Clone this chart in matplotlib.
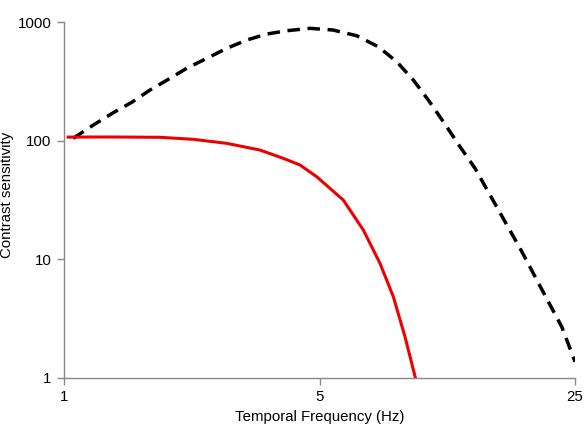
import matplotlib
matplotlib.use('Agg')
import matplotlib.pyplot as plt
from matplotlib.ticker import FixedLocator, NullLocator

plt.rcParams['font.family'] = ['Liberation Sans', 'DejaVu Sans']

# dashed black curve
freqDashed = [1.060, 1.203, 1.364, 1.532, 1.719, 1.950, 2.166, 2.458, 2.787, 3.161,
              3.585, 4.067, 4.710, 5.445, 6.322, 7.241, 8.134, 9.028, 9.922, 10.906,
              12.116, 13.316, 14.636, 16.088, 17.681, 19.222, 21.13, 22.99, 25.0]
sensDashed = [104.7, 135.5, 172.1, 210.5, 267.3, 335.5, 407.3, 494.6, 600.2, 705.3,
              792.2, 844.9, 885.1, 856.4, 766.6, 619.2, 463.0, 324.5, 220.1, 144.5,
              88.96, 58.5, 34.85, 20.76, 12.39, 7.625, 4.395, 2.706, 1.372]

# solid red curve
freqRed = [1.027, 1.336, 1.831, 2.258, 2.787, 3.437, 3.980, 4.423, 4.913, 5.808,
           6.590, 7.318, 7.961, 8.566, 9.15]
sensRed = [107.2, 107.5, 106.8, 102.7, 95.0, 83.4, 71.0, 62.4, 49.7, 31.6,
           17.67, 9.26, 4.84, 2.23, 1.0]

xTicks = [1, 5, 25]
yTicks = [1, 10, 100, 1000]

fig = plt.figure(figsize=(5.87, 4.24), dpi=100)
ax = fig.add_axes([0.109, 0.1085, 0.8706, 0.8395])

ax.plot(freqDashed, sensDashed, color='black', linewidth=2.5, linestyle=(0, (3.6, 2.2)))
ax.plot(freqRed, sensRed, color='#ee0000', linewidth=2.2)

ax.set_xscale('log')
ax.set_yscale('log')
ax.set_xlim(1, 25)
ax.set_ylim(1, 1000)

ax.xaxis.set_major_locator(FixedLocator(xTicks))
ax.xaxis.set_minor_locator(NullLocator())
ax.yaxis.set_major_locator(FixedLocator(yTicks))
ax.yaxis.set_minor_locator(NullLocator())
ax.set_xticklabels([str(t) for t in xTicks])
ax.set_yticklabels([str(t) for t in yTicks])

for side in ['top', 'right']:
    ax.spines[side].set_visible(False)
for side in ['left', 'bottom']:
    ax.spines[side].set_color('#888888')
    ax.spines[side].set_linewidth(1.0)

ax.tick_params(axis='both', colors='#888888', labelcolor='black', labelsize=10.8, length=5, width=1.0, direction='out')
ax.tick_params(axis='y', pad=4)
ax.tick_params(axis='x', pad=4)

ax.set_xlabel('Temporal Frequency (Hz)', fontsize=10.8, labelpad=4)
ax.set_ylabel('Contrast sensitivity', fontsize=10.8)
ax.yaxis.set_label_coords(-0.098, 0.514)

fig.savefig('out.png', dpi=100)
